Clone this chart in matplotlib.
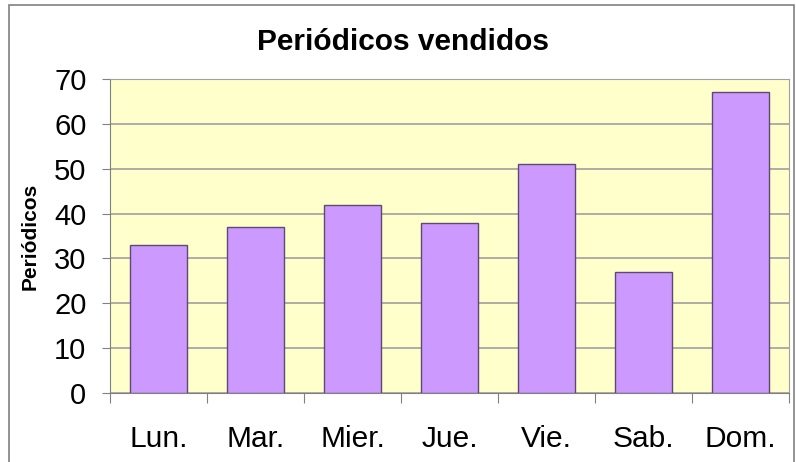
import numpy as np
import matplotlib.pyplot as plt
from matplotlib.patches import Rectangle

dias = ["Lun.", "Mar.", "Mier.", "Jue.", "Vie.", "Sab.", "Dom."]
vendidos = [33, 37, 42, 38, 51, 27, 67]

plt.rcParams['font.family'] = ['Liberation Sans', 'DejaVu Sans']

fig = plt.figure(figsize=(7.96, 4.62), dpi=100)
ax = fig.add_axes([110 / 796, 69 / 462, 679 / 796, 314 / 462])

# marco exterior del grafico
fig.patches.append(Rectangle((9 / 796, -0.05), 785 / 796, 1.05 - 5 / 462,
                             transform=fig.transFigure, fill=False,
                             ec='#808080', lw=1.2))

x = np.arange(len(dias))
ax.set_facecolor('#FFFFCC')
ax.bar(x, vendidos, width=0.59, color='#CC99FF', edgecolor='#5c4a70',
       linewidth=1, zorder=3)

ax.set_xlim(-0.5, len(dias) - 0.5)
ax.set_ylim(0, 70)
ax.set_yticks(range(0, 71, 10))
ax.yaxis.grid(True, color='#a0a0a0', lw=1.2, zorder=0)

# ticks entre categorias, etiquetas en el centro
ax.set_xticks(np.arange(-0.5, len(dias), 1))
ax.set_xticklabels([])
ax.set_xticks(x, minor=True)
ax.set_xticklabels(dias, minor=True)
ax.tick_params(axis='x', which='major', length=7, color='#808080')
ax.tick_params(axis='x', which='minor', length=0, pad=23, labelsize=21.5)
ax.tick_params(axis='y', length=6, color='#808080', pad=11, labelsize=21)

for side in ['top', 'right', 'left', 'bottom']:
    ax.spines[side].set_color('#a0a0a0')
ax.spines['bottom'].set_color('#808080')
ax.spines['left'].set_color('#808080')

fig.text(403 / 796, 1 - 42 / 462, "Periódicos vendidos", fontsize=21.5,
         fontweight='bold', ha='center', va='center')
ax.set_ylabel("Periódicos", fontsize=15, fontweight='bold', labelpad=10)

fig.savefig("out.png", dpi=100)
